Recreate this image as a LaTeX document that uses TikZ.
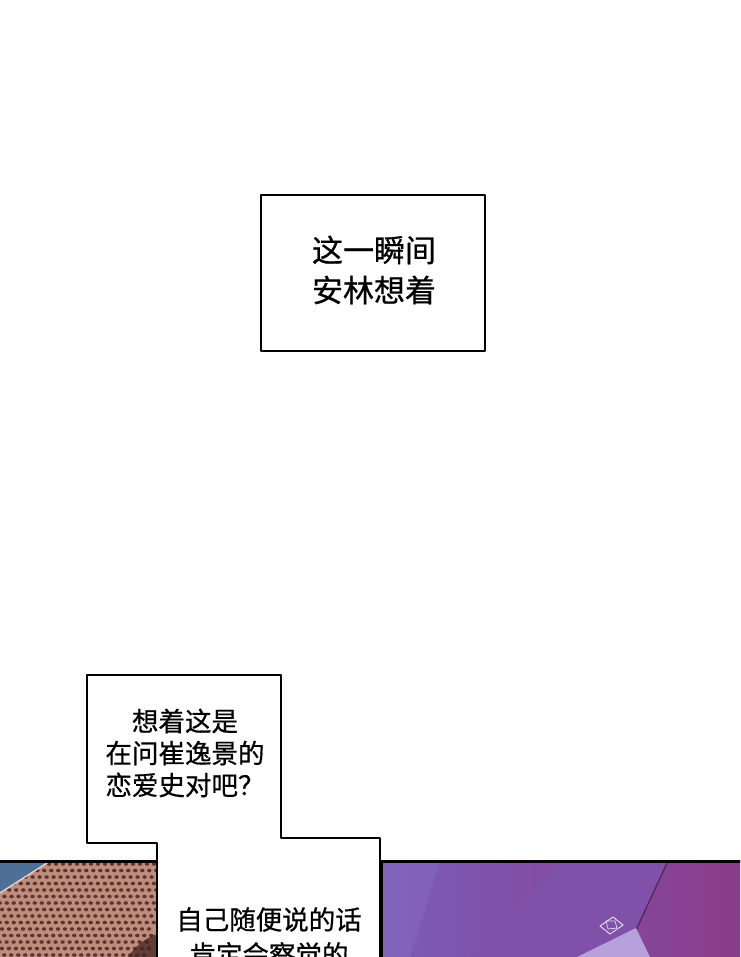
\documentclass[tikz,border=0pt]{standalone}
\usepackage{fontspec}
\newfontfamily\cjk[FakeBold=0.6]{Noto Sans CJK SC}
\definecolor{brick}{HTML}{BD8E7E}
\definecolor{brickdark}{HTML}{5E342C}
\definecolor{skyblue}{HTML}{4D7094}
\definecolor{purpleL}{HTML}{7B5CB8}
\definecolor{purpleR}{HTML}{8A3C8A}
\definecolor{lavender}{HTML}{B8A0DC}
\tikzset{
  bubble/.style={draw=black, line width=2.6pt, fill=white, line join=round},
  cap1/.style={font=\cjk\fontsize{31}{40}\selectfont, align=center, text=black, inner sep=0pt},
  cap2/.style={font=\cjk\fontsize{26.5}{32}\selectfont, align=center, text=black, inner sep=0pt},
  cap3/.style={font=\cjk\fontsize{26.5}{35}\selectfont, align=center, text=black, inner sep=0pt},
  panelframe/.style={draw=black, line width=3pt}
}
\begin{document}
\begin{tikzpicture}[x=1pt,y=-1pt]
\useasboundingbox (0,0) rectangle (740,957);
\clip (0,0) rectangle (740,957);
\fill[white] (0,0) rectangle (740,957);
% top caption box
\draw[bubble, line width=2.2pt] (261,195) rectangle (485,351);
\node[cap1] (t1) at (374,270) {这一瞬间\\安林想着};
% left panel
\begin{scope}
  \clip (0,861) rectangle (157,960);
  \fill[brick] (0,861) rectangle (157,960);
  \foreach \r in {0,...,14} {
    \foreach \c in {0,...,23} {
      \fill[brickdark] ({\c*7+mod(\r,2)*3.5-\r*1.2},{864+\r*6.5}) ellipse (2.2 and 1.8);
    }
  }
  \fill[skyblue] (0,861) -- (50,861) -- (0,893) -- cycle;
  \draw[white!60!brick, line width=1.4pt] (50,861) -- (0,893);
  \fill[brickdark!70!black, opacity=0.75] (128,957) .. controls (136,945) and (146,938) .. (157,934) -- (157,960) -- (128,960) -- cycle;
\end{scope}
\draw[panelframe] (0,861) -- (157,861);
% right panel
\begin{scope}
  \clip (381,861) rectangle (742,960);
  \shade[left color=purpleL, right color=purpleR] (381,861) rectangle (742,960);
  \fill[purpleL!90!white, opacity=0.5] (381,861) -- (440,861) -- (410,957) -- (381,957) -- cycle;
  \fill[purpleL!65!purpleR] (560,861) -- (668,861) -- (636,930) -- (578,957) -- (470,957) -- cycle;
  \draw[purpleR!60!black, line width=1.2pt] (668,861) -- (636,930);
  \fill[lavender] (577,957) -- (636,928) -- (650,957) -- cycle;
  \draw[white!80!purpleL, line width=0.9pt] (600,926) -- (613,917) -- (623,925) -- (610,934) -- cycle;
  \draw[white!80!purpleL, line width=0.7pt] (606,921) -- (615,921) -- (617,928) -- (608,929) -- cycle;
\end{scope}
\draw[panelframe] (381,861) -- (742,861);
\draw[panelframe] (381,861) -- (381,960);
% speech bubble
\draw[bubble] (87,675) -- (281,675) -- (281,838) -- (380,838) -- (380,965) -- (157,965) -- (157,843) -- (87,843) -- cycle;
\node[cap2] (t2) at (185,753) {想着这是\\在问崔逸景的\\恋爱史对吧？};
\node[cap3, anchor=north] (t3) at (269,907) {自己随便说的话\\肯定会察觉的};
\end{tikzpicture}
\end{document}
